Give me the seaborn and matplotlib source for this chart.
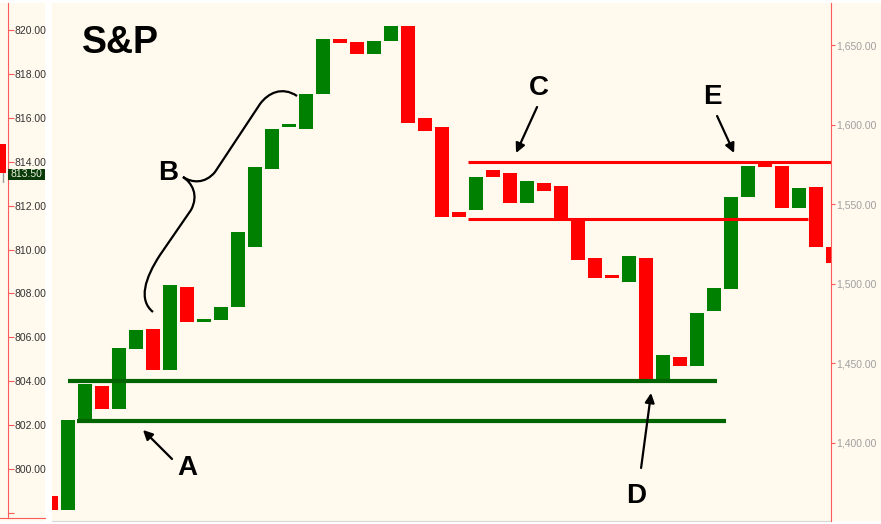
import matplotlib
matplotlib.use("Agg")
import matplotlib.pyplot as plt
import matplotlib.transforms as mtransforms
from matplotlib.patches import Rectangle, PathPatch
from matplotlib.path import Path
import pandas as pd
import seaborn as sns

# candle bodies (open, close) on the left price scale, one per bar
opens = [798.77, 798.13, 802.24, 803.80, 802.74, 805.48, 806.40, 804.50, 808.30, 806.70,
         806.80, 807.40, 810.10, 813.65, 815.60, 815.50, 817.10, 819.60, 819.45, 818.90,
         819.50, 820.20, 816.00, 815.60, 811.70, 811.80, 813.60, 813.50, 812.10, 813.05,
         812.90, 811.30, 809.60, 808.85, 808.50, 809.60, 804.00, 805.10, 804.70, 807.20,
         808.20, 812.40, 813.90, 813.80, 811.90, 812.85, 810.10]
closes = [798.13, 802.23, 803.88, 802.74, 805.50, 806.35, 804.50, 808.36, 806.70, 806.85,
          807.40, 810.78, 813.75, 815.50, 815.70, 817.10, 819.60, 819.40, 818.90, 819.50,
          820.20, 815.75, 815.40, 811.50, 811.50, 813.30, 813.30, 812.10, 813.10, 812.65,
          811.45, 809.50, 808.70, 808.70, 809.70, 804.00, 805.20, 804.70, 807.10, 808.25,
          812.40, 813.80, 813.75, 811.90, 812.80, 810.10, 809.40]

left_ticks = [798, 800, 802, 804, 806, 808, 810, 812, 814, 816, 818, 820]
right_ticks = [1400, 1450, 1500, 1550, 1600, 1650]

# horizontal levels and the bar range they cover
support_levels = [804.0, 802.2]
support_spans = [(0.97, 39.2), (1.5, 39.7)]
resist_levels = [814.0, 811.4]
resist_spans = [(24.5, 45.9), (24.5, 44.55)]

last_price = 813.50

CREAM = "#FFF9EE"
GREEN = "#008000"
DKGREEN = "#006400"
RED = "#FF0000"
AXRED = "#FF5A5A"

sns.set_style("white")
plt.rcParams["font.family"] = ["Liberation Sans", "DejaVu Sans"]

W, H = 881, 524
fig = plt.figure(figsize=(W / 100, H / 100), dpi=100, facecolor=CREAM)


def fx(px):
    return px / W


def fy(py):
    return 1 - py / H


def d(px, py):
    """pixel position in the picture -> (bar, price)"""
    return ((px - 51.5) / 16.98, 820 - (py - 30) / 21.95)


# white strips around the panels
fig.add_artist(Rectangle((fx(45), 0), fx(52) - fx(45), 1, transform=fig.transFigure,
                         facecolor="white", edgecolor="none", zorder=0))
fig.add_artist(Rectangle((0, fy(3)), 1, 1 - fy(3), transform=fig.transFigure,
                         facecolor="white", edgecolor="none", zorder=0))
fig.add_artist(Rectangle((0, 0), 1, fy(521), transform=fig.transFigure,
                         facecolor="white", edgecolor="none", zorder=0))

# main panel
ax = fig.add_axes([fx(52), fy(521), fx(831) - fx(52), fy(3) - fy(521)])
ax.set_facecolor(CREAM)
ax.set_xlim(0.03, 45.9)
ax.set_ylim(797.63, 821.23)

rows = []
for i, (o, c) in enumerate(zip(opens, closes)):
    side = "up" if c >= o else "down"
    rows.append({"bar": i, "price": o, "side": side})
    rows.append({"bar": i, "price": c, "side": side})
df = pd.DataFrame(rows)

sns.lineplot(data=df, x="bar", y="price", units="bar", hue="side",
             palette={"up": GREEN, "down": RED}, estimator=None, sort=False,
             lw=10.1, solid_capstyle="butt", legend=False, ax=ax)

for lvl, (a, b) in zip(support_levels, support_spans):
    ax.hlines(lvl, a, b, color=DKGREEN, lw=3, zorder=3)
for lvl, (a, b) in zip(resist_levels, resist_spans):
    ax.hlines(lvl, a, b, color=RED, lw=2.2, zorder=3)

ax.set_xticks([])
ax.set_yticks([])
ax.set_xlabel("")
ax.set_ylabel("")
for s in ["left", "top", "right"]:
    ax.spines[s].set_visible(False)
ax.spines["bottom"].set_color("#D8D8D8")

# right price scale
tw = ax.twinx()
tw.set_ylim(1351.0, 1676.4)
tw.set_yticks(right_ticks)
tw.set_yticklabels([f"{v:,.2f}" for v in right_ticks])
tw.tick_params(axis="y", direction="out", length=3, width=0.8, color=AXRED,
               pad=1, labelsize=7.5, labelcolor="#A0A0A0")
for s in ["left", "top", "bottom"]:
    tw.spines[s].set_visible(False)
tw.spines["right"].set_color(AXRED)
tw.set_ylabel("")

# left price scale
axl = fig.add_axes([0, fy(518), fx(45), fy(3) - fy(518)])
axl.set_facecolor(CREAM)
axl.set_xlim(0, 1)
axl.set_ylim(797.77, 821.23)
axl.set_xticks([])
axl.yaxis.tick_right()
axl.set_yticks(left_ticks)
axl.set_yticklabels(["" if v == 798 else f"{v:.2f}" for v in left_ticks])
axl.tick_params(axis="y", direction="out", length=4, width=0.8, color=AXRED,
                pad=1, labelsize=7.5, labelcolor="#333333")
axl.spines["right"].set_position(("axes", 7.5 / 45))
axl.spines["right"].set_color(AXRED)
axl.spines["bottom"].set_color(AXRED)
axl.spines["left"].set_visible(False)
axl.spines["top"].set_visible(False)

blend = mtransforms.blended_transform_factory(axl.transAxes, axl.transData)
axl.add_patch(Rectangle((0, last_price), 5.7 / 45, 1.31, transform=blend,
                        facecolor=RED, edgecolor="none", clip_on=False))
axl.plot([3 / 45, 3 / 45], [last_price - 0.42, last_price], transform=blend,
         color="#999999", lw=1, clip_on=False)
axl.add_patch(Rectangle((7.5 / 45, last_price - 0.33), 1 - 7.5 / 45, 0.5, transform=blend,
                        facecolor="#0A3A0A", edgecolor="none", clip_on=False, zorder=4))
axl.text((7.5 + 37.5 / 2) / 45, last_price - 0.08, f"{last_price:.2f}", transform=blend,
         ha="center", va="center", fontsize=7.5, color="#E6F2D8", zorder=5)

# title and labels
ax.text(*d(82, 53), "S&P", ha="left", va="baseline", fontsize=27,
        fontweight="bold", color="black")
for letter, (px, py) in {"A": (187, 475), "B": (168, 180), "C": (539, 95),
                         "D": (636, 503), "E": (712, 104)}.items():
    ax.text(*d(px, py), letter, ha="center", va="baseline", fontsize=20,
            fontweight="bold", color="black")

arrows = [((172, 459), (143, 430)), ((537, 107), (516, 153)),
          ((717, 116), (734, 153)), ((641, 468), (651, 393))]
for tail, head in arrows:
    ax.annotate("", xy=d(*head), xytext=d(*tail),
                arrowprops=dict(arrowstyle="-|>", color="black", lw=1.6,
                                mutation_scale=14, shrinkA=0, shrinkB=0))

# curly brace for B
brace_px = [(183, 177), (192, 183), (205, 184), (215, 172), (260, 104),
            (268, 93), (282, 86), (297, 96),
            (183, 177), (192, 183), (199, 195), (191, 210), (160, 255),
            (145, 278), (138, 300), (153, 312)]
codes = [Path.MOVETO, Path.CURVE4, Path.CURVE4, Path.CURVE4, Path.LINETO,
         Path.CURVE4, Path.CURVE4, Path.CURVE4,
         Path.MOVETO, Path.CURVE4, Path.CURVE4, Path.CURVE4, Path.LINETO,
         Path.CURVE4, Path.CURVE4, Path.CURVE4]
ax.add_patch(PathPatch(Path([d(*p) for p in brace_px], codes), facecolor="none",
                       edgecolor="black", lw=1.6, zorder=4))

fig.savefig("out.png", dpi=100, facecolor=fig.get_facecolor())
